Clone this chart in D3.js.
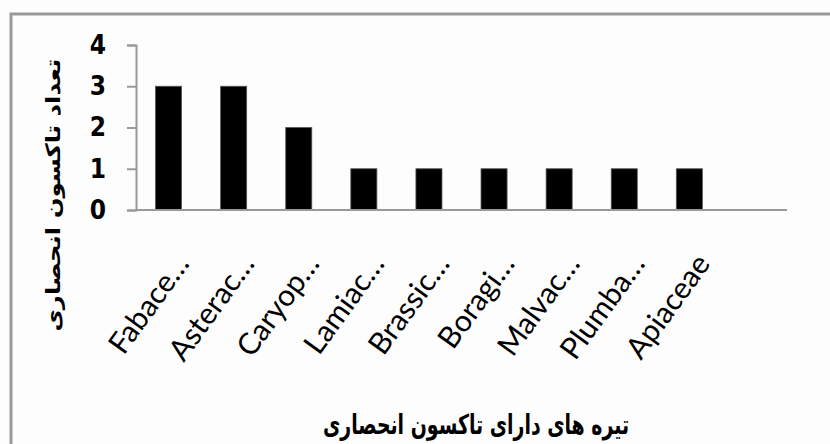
<!DOCTYPE html>
<html>
<head>
<meta charset="utf-8">
<script src="https://cdn.jsdelivr.net/npm/d3@7"></script>
<style>
  html, body { margin: 0; padding: 0; background: #fdfdfd; }
  svg { display: block; }
</style>
</head>
<body>
<svg id="chart" width="830" height="444"></svg>
<script>
// Families with endemic taxa and their counts
const categories = ["Fabace…", "Asterac…", "Caryop…", "Lamiac…", "Brassic…", "Boragi…", "Malvac…", "Plumba…", "Apiaceae"];
const counts = [3, 3, 2, 1, 1, 1, 1, 1, 1];
const yTicks = [0, 1, 2, 3, 4];
const yTitle = "تعداد تاکسون انحصاری";
const xTitle = "تیره های دارای تاکسون انحصاری";

const svg = d3.select("#chart");
const W = 830, H = 444;

// outer frame (top and left edges visible)
svg.append("path")
  .attr("d", `M11,${H} V14 H${W}`)
  .attr("fill", "none")
  .attr("stroke", "#9a9a9a")
  .attr("stroke-width", 3);

const plot = { left: 136, right: 787, top: 45, bottom: 210 };
const step = (plot.right - plot.left) / 10;

const x = d3.scaleBand()
  .domain(categories)
  .range([plot.left, plot.left + step * categories.length])
  .paddingInner(0.6)
  .paddingOuter(0.3);

const y = d3.scaleLinear()
  .domain([0, 4])
  .range([plot.bottom, plot.top]);

const axisColor = "#999";

// y axis
const yAxis = svg.append("g")
  .attr("transform", `translate(${plot.left},0)`)
  .call(d3.axisLeft(y).tickValues(yTicks).tickSize(9).tickPadding(20).tickFormat(d3.format("d")));
yAxis.select(".domain").attr("stroke", axisColor).attr("stroke-width", 2);
yAxis.selectAll(".tick line").attr("stroke", axisColor).attr("stroke-width", 2);
yAxis.selectAll(".tick text")
  .attr("fill", "#000")
  .attr("text-anchor", "middle")
  .attr("dx", "-0.35em")
  .style("font-family", "'Liberation Sans Narrow', 'DejaVu Sans Condensed', sans-serif")
  .style("font-weight", "bold")
  .style("font-size", "26px");

// bars
svg.append("g")
  .selectAll("rect")
  .data(counts)
  .join("rect")
  .attr("x", (d, i) => x(categories[i]))
  .attr("y", d => y(d))
  .attr("width", x.bandwidth())
  .attr("height", d => y(0) - y(d))
  .attr("fill", "#000")
  .attr("stroke", "#555")
  .attr("stroke-width", 0.8);

// x axis baseline
svg.append("line")
  .attr("x1", plot.left).attr("x2", plot.right)
  .attr("y1", y(0)).attr("y2", y(0))
  .attr("stroke", axisColor)
  .attr("stroke-width", 2);

// slanted category labels
svg.append("g")
  .selectAll("text")
  .data(categories)
  .join("text")
  .attr("transform", d => `translate(${x(d) + x.bandwidth() / 2 + 22},${plot.bottom + 54}) rotate(-54)`)
  .attr("text-anchor", "end")
  .style("font-family", "Lato, 'Open Sans', sans-serif")
  .style("font-size", "30px")
  .attr("fill", "#000")
  .text(d => d);

// axis titles
svg.append("text")
  .attr("transform", `translate(60,195) scale(1,1.22) rotate(-90)`)
  .attr("text-anchor", "middle")
  .attr("direction", "rtl")
  .style("font-family", "'DejaVu Sans', sans-serif")
  .style("font-weight", "bold")
  .style("font-size", "20px")
  .attr("fill", "#000")
  .text(yTitle);

svg.append("text")
  .attr("transform", "translate(476,434) scale(0.86,1.25)")
  .attr("text-anchor", "middle")
  .attr("direction", "rtl")
  .style("font-family", "'DejaVu Sans', sans-serif")
  .style("font-weight", "bold")
  .style("font-size", "22px")
  .attr("fill", "#000")
  .text(xTitle);
</script>
</body>
</html>
